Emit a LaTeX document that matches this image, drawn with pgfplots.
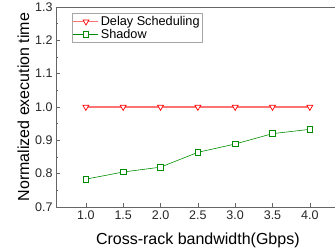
\documentclass[border=0pt]{standalone}
\usepackage{fontspec}
\setmainfont{Liberation Sans}
\usepackage{pgfplots}
\pgfplotsset{compat=1.18}
\begin{document}
\begin{tikzpicture}[x=1pt,y=1pt]
\clip (-56,-41) rectangle (279,207);
\begin{axis}[
  at={(0,0)}, anchor=south west,
  scale only axis, width=283.7pt, height=200pt,
  xmin=0.6, xmax=4.4, ymin=0.7, ymax=1.3,
  xtick={1.0,1.5,2.0,2.5,3.0,3.5,4.0},
  ytick={0.7,0.8,0.9,1.0,1.1,1.2,1.3},
  minor ytick={0.75,0.85,0.95,1.05,1.15,1.25},
  xticklabel style={/pgf/number format/.cd,fixed,fixed zerofill,precision=1},
  yticklabel style={/pgf/number format/.cd,fixed,fixed zerofill,precision=1},
  /pgf/number format/assume math mode=true,
  xtick pos=bottom, ytick pos=left, tick align=inside,
  major tick length=4pt, minor tick length=2.5pt,
  tick style={gray!80!black, line width=0.6pt},
  axis line style={gray!80!black, line width=0.8pt},
  ticklabel style={font=\fontsize{12.5}{14}\selectfont, text=black!85},
  xlabel={Cross-rack bandwidth(Gbps)},
  ylabel={Normalized execution time},
  label style={font=\fontsize{16}{18}\selectfont},
  xlabel style={yshift=-7pt},
  ylabel style={yshift=-1pt},
  legend image code/.code={\draw[mark repeat=2,mark phase=2,#1] plot coordinates {(0pt,0pt) (12.5pt,0pt) (25pt,0pt)};},
  legend style={at={(rel axis cs:0.056,0.97)}, anchor=north west,
    font=\fontsize{12.7}{15}\selectfont, draw=gray!70, line width=0.6pt,
    inner sep=1pt, row sep=-2pt, legend cell align=left},
  legend image post style={line width=0.6pt},
]
\addplot[color=red!55, line width=1.2pt, mark=triangle*, mark options={rotate=180, fill=white, draw=red, line width=0.7pt, scale=1.7}]
coordinates {(1.0,1.0) (1.5,1.0) (2.0,1.0) (2.5,1.0) (3.0,1.0) (3.5,1.0) (4.0,1.0)};
\addlegendentry{Delay Scheduling}
\addplot[color=green!55!black, line width=0.6pt, mark=square*, mark options={fill=white, draw=green!55!black, line width=0.8pt, scale=1.4}]
coordinates {(1.0,0.7835) (1.5,0.805) (2.0,0.8195) (2.5,0.864) (3.0,0.889) (3.5,0.920) (4.0,0.933)};
\addlegendentry{Shadow}
\end{axis}
\end{tikzpicture}
\end{document}
